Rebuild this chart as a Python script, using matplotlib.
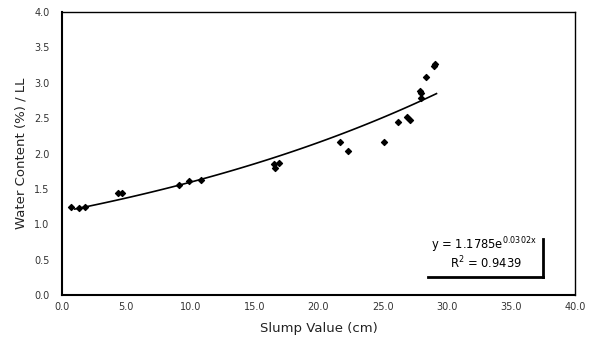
import numpy as np
import matplotlib.pyplot as plt

plt.rcParams["font.family"] = ["DejaVu Sans"]

# measured points (slump cm, water content / LL)
slump = [0.7, 1.3, 1.8, 4.4, 4.7, 9.1, 9.9, 10.8, 16.5, 16.6, 16.9,
         21.7, 22.3, 25.1, 26.2, 26.9, 27.1, 27.9, 28.0, 28.0, 28.4, 29.0, 29.1]
water = [1.24, 1.23, 1.25, 1.44, 1.44, 1.55, 1.61, 1.63, 1.85, 1.79, 1.86,
         2.16, 2.04, 2.16, 2.45, 2.51, 2.47, 2.88, 2.86, 2.78, 3.08, 3.24, 3.27]

# exponential trend line y = a * exp(b x)
a, b = 1.1785, 0.0302
fit_x = np.linspace(1.0, 29.2, 100)
fit_y = a * np.exp(b * fit_x)

fig = plt.figure(figsize=(5.94, 3.43), dpi=100)
ax = fig.add_axes([62 / 594, 48 / 343, 513 / 594, 283 / 343])

ax.plot(fit_x, fit_y, color="black", lw=1.2)
ax.scatter(slump, water, marker="D", s=9, color="black", zorder=3)

ax.set_xlim(0, 40)
ax.set_ylim(0, 4)
ax.set_xticks(np.arange(0, 41, 5))
ax.set_yticks(np.arange(0, 4.01, 0.5))
ax.set_xticklabels([f"{v:.1f}" for v in np.arange(0, 41, 5)])
ax.set_yticklabels([f"{v:.1f}" for v in np.arange(0, 4.01, 0.5)])
ax.tick_params(length=0, labelsize=7, colors="#333333")
ax.tick_params(axis="x", pad=5)
ax.tick_params(axis="y", pad=9)
for side in ["left", "bottom"]:
    ax.spines[side].set_linewidth(1.5)
for side in ["top", "right"]:
    ax.spines[side].set_linewidth(1.0)

ax.set_xlabel("Slump Value (cm)", fontsize=9.5, labelpad=7, color="#222222")
ax.set_ylabel("Water Content (%) / LL", fontsize=9.5, labelpad=5, color="#222222")

# equation box with shadow-like right/bottom border
ax.text(0.822, 0.176, r"y = 1.1785e$^{\mathrm{0.0302x}}$", transform=ax.transAxes,
        ha="center", va="center", fontsize=8.3)
ax.text(0.826, 0.114, r"R$^{\mathrm{2}}$ = 0.9439", transform=ax.transAxes,
        ha="center", va="center", fontsize=8.3)
ax.plot([0.938, 0.938], [0.063, 0.197], color="black", lw=2, transform=ax.transAxes)
ax.plot([0.713, 0.938], [0.063, 0.063], color="black", lw=2, transform=ax.transAxes)

fig.savefig("out.png", dpi=100)
